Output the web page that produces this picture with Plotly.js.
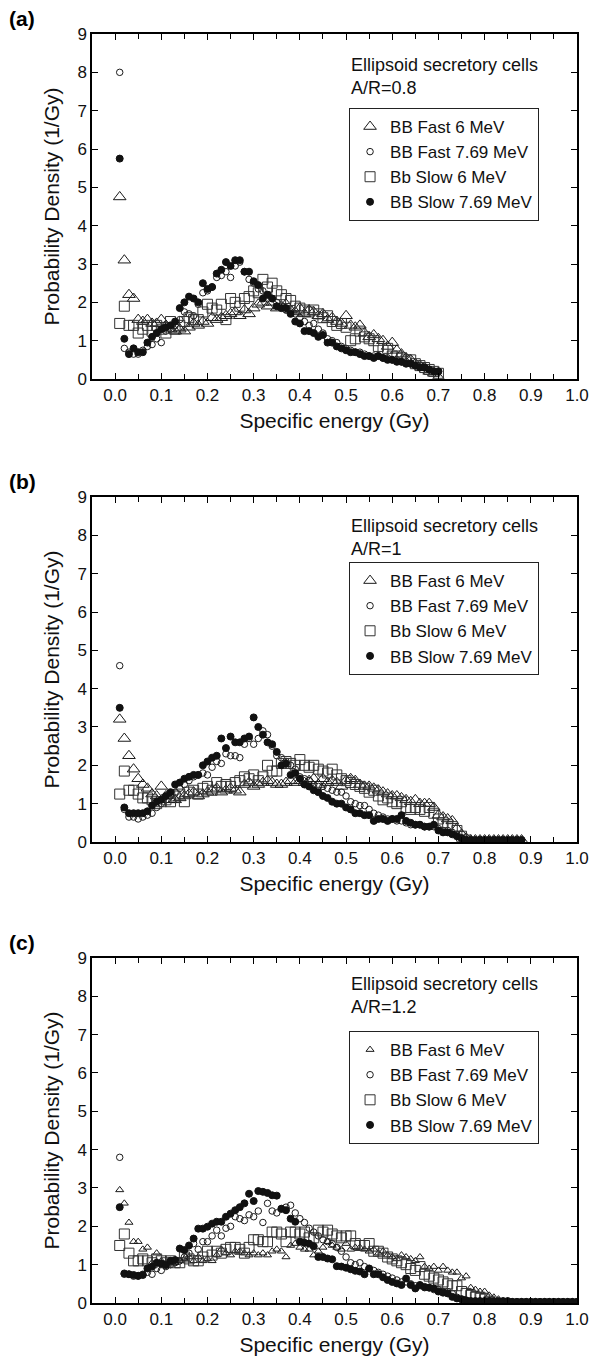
<!DOCTYPE html>
<html>
<head>
<meta charset="utf-8">
<script src="https://cdn.plot.ly/plotly-3.0.1.min.js"></script>
<style>
html,body{margin:0;padding:0;background:#fff;}
#chart{width:592px;height:1362px;}
</style>
</head>
<body>
<div id="chart"></div>
<script>
// ---------- data ----------
const seriesNames = ["BB Fast 6 MeV", "BB Fast 7.69 MeV", "Bb Slow 6 MeV", "BB Slow 7.69 MeV"];
const panelLabels = ["(a)", "(b)", "(c)"];
const panelNotes = ["Ellipsoid secretory cells<br>A/R=0.8", "Ellipsoid secretory cells<br>A/R=1", "Ellipsoid secretory cells<br>A/R=1.2"];
const xTickVals = [0.0,0.1,0.2,0.3,0.4,0.5,0.6,0.7,0.8,0.9,1.0];
const xTickText = ["0.0","0.1","0.2","0.3","0.4","0.5","0.6","0.7","0.8","0.9","1.0"];
const yTickVals = [0,1,2,3,4,5,6,7,8,9];

// panel (a) A/R = 0.8
const xA = [0.01,0.02,0.03,0.04,0.05,0.06,0.07,0.08,0.09,0.10,
  0.11,0.12,0.13,0.14,0.15,0.16,0.17,0.18,0.19,0.20,
  0.21,0.22,0.23,0.24,0.25,0.26,0.27,0.28,0.29,0.30,
  0.31,0.32,0.33,0.34,0.35,0.36,0.37,0.38,0.39,0.40,
  0.41,0.42,0.43,0.44,0.45,0.46,0.47,0.48,0.49,0.50,
  0.51,0.52,0.53,0.54,0.55,0.56,0.57,0.58,0.59,0.60,
  0.61,0.62,0.63,0.64,0.65,0.66,0.67,0.68,0.69,0.70];
const aFast6 = [4.75,3.1,2.2,2.1,1.55,1.5,1.55,1.45,1.45,1.55,
  1.4,1.3,1.25,1.3,1.25,1.35,1.45,1.4,1.5,1.45,
  1.6,1.55,1.6,1.65,1.7,1.75,1.65,1.8,1.7,1.85,
  1.95,2.0,1.9,2.0,1.85,1.9,1.95,1.8,1.75,1.85,
  1.7,1.8,1.75,1.65,1.7,1.55,1.6,1.5,1.45,1.65,
  1.4,1.35,1.4,1.2,1.1,1.15,1.05,1.0,0.85,0.95,
  0.75,0.65,0.55,0.5,0.4,0.35,0.3,0.2,0.15,0.05];
const aFast769 = [8.0,0.8,0.7,0.65,0.65,0.75,0.85,0.9,1.05,0.95,
  1.25,1.3,1.4,1.55,1.75,1.7,1.65,1.95,2.25,2.3,
  2.4,2.65,2.7,2.8,2.65,2.95,3.05,2.8,2.6,2.5,
  2.35,2.3,2.2,2.1,2.0,1.9,1.8,1.75,1.7,1.6,
  1.5,1.4,1.45,1.3,1.2,1.05,1.0,0.95,0.85,0.8,
  0.75,0.7,0.7,0.65,0.6,0.6,0.6,0.55,0.55,0.5,
  0.5,0.45,0.45,0.4,0.35,0.35,0.3,0.25,0.2,0.2];
const aSlow6 = [1.45,1.9,1.4,1.4,1.2,1.3,1.4,1.25,1.4,1.3,
  1.2,1.5,1.3,1.4,1.5,1.6,1.55,1.55,1.75,1.95,
  1.85,1.8,1.95,1.55,2.1,2.0,1.9,2.1,2.15,2.3,
  2.25,2.6,2.4,2.5,2.3,2.2,2.1,2.05,1.9,1.85,
  1.8,1.75,1.8,1.7,1.6,1.65,1.5,1.4,1.45,1.35,
  1.0,1.05,1.25,1.1,1.05,1.0,0.85,0.75,0.8,0.6,
  0.6,0.55,0.5,0.5,0.4,0.35,0.3,0.25,0.2,0.15];
const aSlow769 = [5.75,1.05,0.65,0.8,0.7,0.7,0.95,1.1,1.2,1.3,
  1.35,1.4,1.5,1.85,2.0,2.15,2.1,2.0,2.5,2.35,
  2.4,2.75,2.85,3.05,2.95,3.1,3.1,2.8,2.8,2.55,
  2.45,2.1,2.2,2.1,1.9,1.85,1.85,1.7,1.5,1.45,
  1.25,1.25,1.2,1.1,1.15,0.95,0.95,0.85,0.8,0.75,
  0.7,0.7,0.65,0.6,0.6,0.55,0.6,0.55,0.5,0.5,
  0.45,0.45,0.4,0.4,0.35,0.3,0.3,0.25,0.2,0.2];

// panel (b) A/R = 1
const xB = [0.01,0.02,0.03,0.04,0.05,0.06,0.07,0.08,0.09,0.10,
  0.11,0.12,0.13,0.14,0.15,0.16,0.17,0.18,0.19,0.20,
  0.21,0.22,0.23,0.24,0.25,0.26,0.27,0.28,0.29,0.30,
  0.31,0.32,0.33,0.34,0.35,0.36,0.37,0.38,0.39,0.40,
  0.41,0.42,0.43,0.44,0.45,0.46,0.47,0.48,0.49,0.50,
  0.51,0.52,0.53,0.54,0.55,0.56,0.57,0.58,0.59,0.60,
  0.61,0.62,0.63,0.64,0.65,0.66,0.67,0.68,0.69,0.70,
  0.71,0.72,0.73,0.74,0.75,0.76,0.77,0.78,0.79,0.80,
  0.81,0.82,0.83,0.84,0.85,0.86,0.87,0.88];
const bFast6 = [3.2,2.7,2.25,1.9,1.65,1.5,1.4,1.25,1.2,1.45,
  1.2,1.1,1.1,1.15,1.2,1.25,1.3,1.2,1.25,1.3,
  1.35,1.4,1.3,1.35,1.4,1.35,1.3,1.5,1.55,1.45,
  1.5,1.55,1.6,1.55,1.5,1.5,1.55,1.6,1.55,1.6,
  1.55,1.6,1.65,1.5,1.65,1.55,1.6,1.55,1.45,1.6,
  1.65,1.6,1.5,1.45,1.45,1.4,1.35,1.3,1.25,1.2,
  1.2,1.15,1.1,1.05,1.1,1.0,1.0,1.0,0.9,0.7,
  0.65,0.6,0.55,0.35,0.2,0.1,0.05,0.05,0.05,0.05,
  0.05,0.05,0.05,0.05,0.05,0.05,0.05,0.05];
const bFast769 = [4.6,0.85,0.65,0.65,0.6,0.65,0.7,0.75,0.9,1.0,
  1.1,1.2,1.3,1.4,1.5,1.6,1.7,1.75,1.8,1.75,
  1.95,2.1,2.05,2.3,2.25,2.25,2.2,2.55,2.7,2.55,
  2.7,2.9,2.8,2.5,2.25,2.2,2.1,2.0,1.9,1.7,
  1.65,1.6,1.5,1.45,1.45,1.4,1.35,1.3,1.3,1.2,
  1.05,1.0,0.95,0.95,0.85,0.75,0.7,0.65,0.6,0.6,
  0.55,0.55,0.5,0.45,0.45,0.45,0.4,0.4,0.4,0.35,
  0.3,0.3,0.25,0.2,0.1,0.05,0.05,0.05,0.05,0.05,
  0.05,0.05,0.05,0.05,0.05,0.05,0.05,0.05];
const bSlow6 = [1.25,1.85,1.35,1.35,1.25,1.15,1.15,1.1,1.0,1.05,
  1.1,1.05,1.2,1.25,1.05,1.3,1.35,1.25,1.4,1.45,
  1.35,1.55,1.45,1.5,1.45,1.55,1.6,1.7,1.65,1.75,
  1.6,1.7,2.0,1.85,1.85,2.05,2.1,2.05,2.0,2.15,
  2.0,1.95,2.0,1.9,1.85,1.8,1.9,1.75,1.65,1.6,
  1.55,1.5,1.45,1.4,1.3,1.35,1.2,1.1,1.15,1.05,
  1.0,1.05,0.9,0.85,0.9,0.85,0.8,0.9,0.75,0.6,
  0.5,0.45,0.4,0.3,0.15,0.05];
const bSlow769 = [3.5,0.9,0.75,0.75,0.75,0.75,0.8,0.95,1.05,1.1,
  1.2,1.3,1.5,1.55,1.65,1.7,1.75,1.75,2.0,2.1,
  2.2,2.25,2.7,2.45,2.75,2.6,2.6,2.7,2.75,3.25,
  3.0,2.8,2.6,2.55,2.35,2.0,2.05,1.75,1.8,1.65,
  1.5,1.45,1.35,1.3,1.2,1.15,1.05,1.0,1.0,0.9,
  0.85,0.75,0.75,0.7,0.7,0.55,0.6,0.6,0.55,0.6,
  0.6,0.7,0.55,0.5,0.45,0.45,0.4,0.4,0.45,0.3,
  0.25,0.25,0.2,0.15,0.1,0.05,0.05,0.05,0.05,0.05,
  0.05,0.05,0.05,0.05,0.05,0.05,0.05,0.05];

// panel (c) A/R = 1.2
const xC = [0.01,0.02,0.03,0.04,0.05,0.06,0.07,0.08,0.09,0.10,
  0.11,0.12,0.13,0.14,0.15,0.16,0.17,0.18,0.19,0.20,
  0.21,0.22,0.23,0.24,0.25,0.26,0.27,0.28,0.29,0.30,
  0.31,0.32,0.33,0.34,0.35,0.36,0.37,0.38,0.39,0.40,
  0.41,0.42,0.43,0.44,0.45,0.46,0.47,0.48,0.49,0.50,
  0.51,0.52,0.53,0.54,0.55,0.56,0.57,0.58,0.59,0.60,
  0.61,0.62,0.63,0.64,0.65,0.66,0.67,0.68,0.69,0.70,
  0.71,0.72,0.73,0.74,0.75,0.76,0.77,0.78,0.79,0.80,
  0.81,0.82,0.83,0.84,0.85,0.86,0.87,0.88,0.89,0.90,
  0.91,0.92,0.93,0.94,0.95,0.96,0.97,0.98,0.99,1.00];
const cFast6 = [2.95,2.6,2.1,1.6,1.6,1.4,1.45,1.05,1.3,1.1,
  1.05,1.1,1.05,1.1,1.15,1.2,1.1,1.2,1.1,1.15,
  1.1,1.25,1.4,1.3,1.25,1.35,1.35,1.3,1.25,1.3,
  1.25,1.3,1.25,1.35,1.4,1.35,1.2,1.5,1.55,1.45,
  1.4,1.4,1.25,1.35,1.45,1.6,1.5,1.45,1.4,1.55,
  1.4,1.45,1.45,1.4,1.35,1.4,1.3,1.35,1.25,1.2,
  1.15,1.25,1.2,1.15,1.1,1.2,0.95,0.9,0.95,0.85,
  0.95,0.85,0.8,0.8,0.65,0.7,0.4,0.35,0.3,0.3,
  0.2,0.15,0.1,0.05,0.05,0.03,0.03,0.03,0.03,0.03,
  0.03,0.03,0.03,0.03,0.03,0.03,0.03,0.03,0.03,0.03];
const cFast769 = [3.8,0.75,0.75,0.7,0.7,0.75,0.8,0.75,0.9,0.85,
  0.95,1.0,1.05,1.1,1.2,1.3,1.55,1.4,1.6,1.6,
  1.75,1.9,1.75,1.95,2.0,2.25,2.2,2.15,2.3,2.25,
  2.4,2.1,2.6,2.4,2.35,2.45,2.5,2.55,2.35,2.2,
  2.1,1.95,1.85,1.75,1.65,1.6,1.55,1.45,1.35,1.2,
  1.05,1.0,1.05,0.95,0.9,0.85,0.8,0.75,0.7,0.65,
  0.6,0.55,0.55,0.5,0.45,0.45,0.4,0.4,0.35,0.35,
  0.3,0.3,0.25,0.15,0.1,0.05,0.05,0.03,0.03,0.03,
  0.03,0.03,0.03,0.03,0.03,0.03,0.03,0.03,0.03,0.03,
  0.03,0.03,0.03,0.03,0.03,0.03,0.03,0.03,0.03,0.03];
const cSlow6 = [1.5,1.8,1.3,1.1,1.1,1.15,1.1,1.05,1.15,1.1,
  1.05,1.1,1.05,1.05,1.2,1.15,1.1,1.1,1.2,1.35,
  1.25,1.35,1.3,1.4,1.45,1.45,1.4,1.3,1.45,1.65,
  1.65,1.6,1.6,1.85,1.85,1.8,1.6,1.85,1.85,1.8,
  1.85,1.7,1.7,1.9,1.85,1.9,1.8,1.75,1.7,1.75,
  1.75,1.55,1.5,1.5,1.55,1.35,1.35,1.3,1.2,1.15,
  1.1,1.05,1.0,0.9,0.85,0.95,0.75,0.7,0.65,0.6,
  0.55,0.5,0.45,0.45,0.3,0.25,0.2,0.15,0.15,0.1,
  0.05];
const cSlow769 = [2.5,0.77,0.75,0.73,0.71,0.73,0.9,0.95,1.05,1.03,
  0.99,1.1,1.12,1.42,1.38,1.5,1.68,1.94,1.94,1.99,
  2.07,2.12,2.12,2.25,2.33,2.42,2.5,2.6,2.85,2.66,
  2.92,2.9,2.87,2.81,2.8,2.46,2.42,2.2,2.12,1.6,
  1.57,1.55,1.48,1.2,1.2,1.16,1.14,0.96,0.95,0.92,
  0.88,0.84,0.82,0.75,0.9,0.75,0.75,0.67,0.6,0.55,
  0.51,0.47,0.64,0.47,0.38,0.47,0.42,0.4,0.38,0.3,
  0.27,0.25,0.16,0.12,0.1,0.07,0.05,0.05,0.05,0.05,
  0.05,0.05,0.05,0.05,0.05,0.03,0.03,0.03,0.03,0.03,
  0.03,0.03,0.03,0.03,0.03,0.03,0.03,0.03,0.03,0.03];

// ---------- build ----------
const panels = [
  {x: xA, ys: [aFast6, aFast769, aSlow6, aSlow769], triSize: 11},
  {x: xB, ys: [bFast6, bFast769, bSlow6, bSlow769], triSize: 11},
  {x: xC, ys: [cFast6, cFast769, cSlow6, cSlow769], triSize: 7}
];
const ink = "#1a1a1a";
const traces = [];
panels.forEach((p, i) => {
  const sfx = i === 0 ? "" : String(i + 1);
  const styles = [
    {symbol: "triangle-up-open", size: p.triSize, color: ink},
    {symbol: "circle-open", size: 6.5, color: ink},
    {symbol: "square-open", size: 10, color: "#333"},
    {symbol: "circle", size: 7, color: "#111"}
  ];
  p.ys.forEach((y, k) => {
    const st = styles[k];
    traces.push({
      type: "scatter", mode: "markers",
      x: p.x.slice(0, y.length), y: y,
      name: seriesNames[k],
      xaxis: "x" + sfx, yaxis: "y" + sfx,
      legend: "legend" + sfx,
      marker: {symbol: st.symbol, size: st.size, color: st.color,
               line: {width: 1, color: st.color}},
      showlegend: true
    });
  });
});

const fontFam = "Liberation Sans, Arial, Helvetica, sans-serif";
function xax(anchor) {
  return {
    anchor: anchor, domain: [0, 1], range: [-0.05, 1.0],
    tickmode: "array", tickvals: xTickVals, ticktext: xTickText,
    ticks: "inside", ticklen: 6, tickwidth: 1, tickcolor: "#000",
    minor: {dtick: 0.05, tick0: 0, ticks: "inside", ticklen: 5, tickwidth: 1, tickcolor: "#000"},
    showline: true, linecolor: "#000", linewidth: 1.6, mirror: "ticks",
    showgrid: false, zeroline: false,
    tickfont: {family: fontFam, size: 17, color: "#111"},
    title: {text: "Specific energy (Gy)", font: {family: fontFam, size: 21, color: "#111"}, standoff: 9},
    fixedrange: true
  };
}
function yax(anchor, dom) {
  return {
    anchor: anchor, domain: dom, range: [0, 9],
    tickmode: "array", tickvals: yTickVals,
    ticks: "inside", ticklen: 6, tickwidth: 1, tickcolor: "#000",
    showline: true, linecolor: "#000", linewidth: 1.6, mirror: "ticks",
    showgrid: false, zeroline: false,
    tickfont: {family: fontFam, size: 17, color: "#111"},
    title: {text: "Probability Density (1/Gy)", font: {family: fontFam, size: 21, color: "#111"}, standoff: 12},
    fixedrange: true
  };
}
function leg(yTop) {
  return {
    x: 0.53, xanchor: "left", y: yTop, yanchor: "top",
    bgcolor: "#fff", bordercolor: "#222", borderwidth: 1,
    font: {family: fontFam, size: 17, color: "#111"},
    tracegroupgap: 0, itemclick: false, itemdoubleclick: false
  };
}
const annotations = [];
const labelY = [1.0126, 0.647, 0.2837];
const noteY = [0.9850, 0.622, 0.261];
panelLabels.forEach((t, i) => {
  annotations.push({text: "<b>" + t + "</b>", xref: "paper", yref: "paper",
    x: -0.175, y: labelY[i], xanchor: "left", yanchor: "middle", showarrow: false,
    font: {family: fontFam, size: 21, color: "#000"}});
  annotations.push({text: panelNotes[i], xref: "paper", yref: "paper",
    x: 0.53, y: noteY[i], xanchor: "left", yanchor: "top", align: "left", showarrow: false,
    font: {family: fontFam, size: 18, color: "#111"}});
});

const layout = {
  width: 592, height: 1362,
  margin: {l: 92, r: 15, t: 34, b: 59},
  paper_bgcolor: "#fff", plot_bgcolor: "#fff",
  font: {family: fontFam, color: "#111"},
  xaxis: xax("y"), yaxis: yax("x", [0.7281, 1]),
  xaxis2: xax("y2"), yaxis2: yax("x2", [0.3633, 0.6351]),
  xaxis3: xax("y3"), yaxis3: yax("x3", [0, 0.2719]),
  legend: leg(0.9417), legend2: leg(0.5839), legend3: leg(0.2143),
  annotations: annotations,
  showlegend: true
};
Plotly.newPlot("chart", traces, layout, {staticPlot: true, displayModeBar: false});
</script>
</body>
</html>
